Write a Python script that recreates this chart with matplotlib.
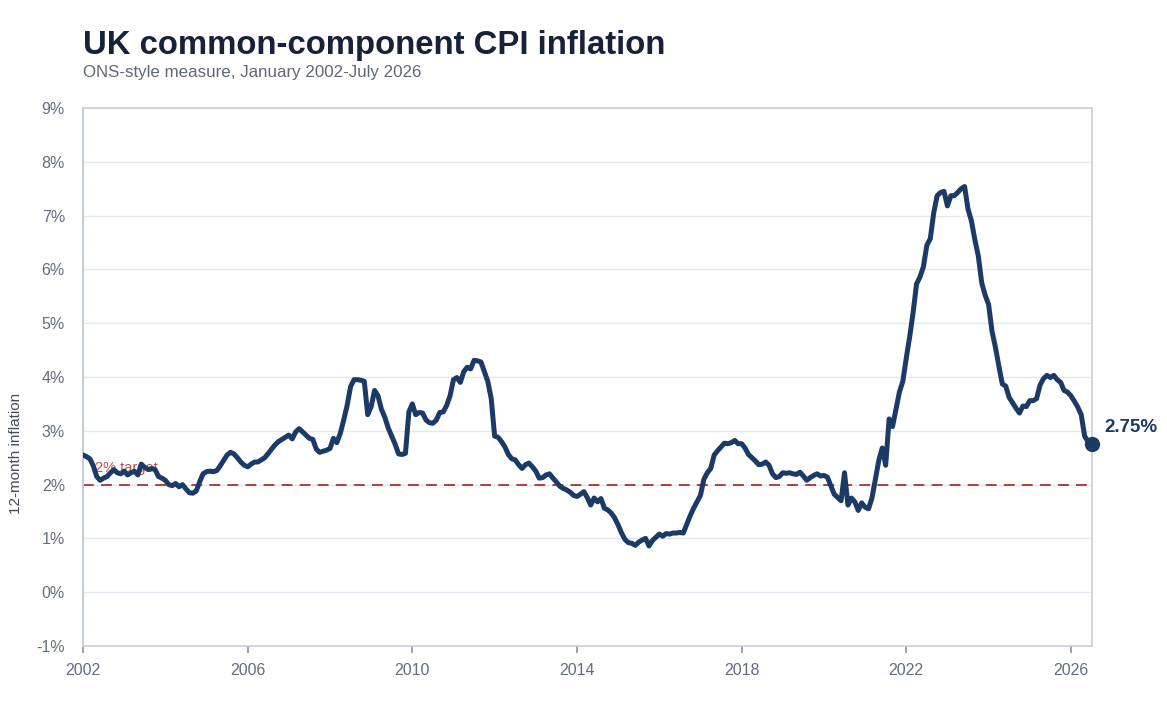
import numpy as np
import matplotlib
matplotlib.use("Agg")
import matplotlib.pyplot as plt

# 12-month common-component CPI inflation, monthly Jan 2002 - Jul 2026 (%)
start_year = 2002
inflation = [
    # 2002
    2.55, 2.52, 2.48, 2.35, 2.15, 2.08, 2.12, 2.15, 2.22, 2.28, 2.22, 2.20,
    # 2003
    2.25, 2.18, 2.22, 2.25, 2.18, 2.38, 2.32, 2.28, 2.30, 2.28, 2.15, 2.12,
    # 2004
    2.08, 2.00, 1.98, 2.02, 1.96, 2.00, 1.92, 1.85, 1.84, 1.88, 2.05, 2.20,
    # 2005
    2.24, 2.25, 2.24, 2.26, 2.35, 2.45, 2.55, 2.60, 2.57, 2.50, 2.42, 2.36,
    # 2006
    2.33, 2.38, 2.42, 2.42, 2.46, 2.50, 2.58, 2.66, 2.74, 2.80, 2.84, 2.88,
    # 2007
    2.92, 2.85, 2.98, 3.04, 2.98, 2.92, 2.86, 2.84, 2.66, 2.60, 2.62, 2.64,
    # 2008
    2.67, 2.86, 2.78, 2.95, 3.20, 3.47, 3.82, 3.95, 3.95, 3.94, 3.92, 3.30,
    # 2009
    3.45, 3.75, 3.65, 3.40, 3.25, 3.05, 2.90, 2.75, 2.57, 2.56, 2.58, 3.35,
    # 2010
    3.50, 3.30, 3.34, 3.33, 3.20, 3.15, 3.14, 3.20, 3.34, 3.35, 3.47, 3.65,
    # 2011
    3.95, 3.99, 3.90, 4.10, 4.18, 4.15, 4.31, 4.30, 4.28, 4.10, 3.92, 3.60,
    # 2012
    2.90, 2.88, 2.80, 2.70, 2.56, 2.48, 2.46, 2.37, 2.30, 2.37, 2.40, 2.33,
    # 2013
    2.25, 2.12, 2.13, 2.18, 2.20, 2.12, 2.05, 1.97, 1.93, 1.90, 1.86, 1.80,
    # 2014
    1.78, 1.82, 1.87, 1.76, 1.62, 1.75, 1.68, 1.74, 1.56, 1.53, 1.47, 1.38,
    # 2015
    1.25, 1.10, 0.98, 0.92, 0.91, 0.87, 0.93, 0.97, 1.00, 0.86, 0.96, 1.02,
    # 2016
    1.08, 1.04, 1.09, 1.08, 1.10, 1.10, 1.11, 1.10, 1.26, 1.42, 1.56, 1.68,
    # 2017
    1.80, 2.10, 2.22, 2.30, 2.55, 2.63, 2.70, 2.77, 2.76, 2.78, 2.82, 2.76,
    # 2018
    2.76, 2.68, 2.56, 2.50, 2.44, 2.37, 2.38, 2.42, 2.36, 2.20, 2.13, 2.15,
    # 2019
    2.22, 2.21, 2.22, 2.20, 2.19, 2.23, 2.16, 2.08, 2.13, 2.17, 2.20, 2.16,
    # 2020
    2.17, 2.14, 1.98, 1.82, 1.76, 1.70, 2.22, 1.62, 1.75, 1.68, 1.52, 1.66,
    # 2021
    1.58, 1.55, 1.75, 2.10, 2.45, 2.68, 2.36, 3.22, 3.08, 3.40, 3.72, 3.92,
    # 2022
    4.35, 4.75, 5.20, 5.73, 5.86, 6.05, 6.45, 6.57, 7.05, 7.37, 7.43, 7.45,
    # 2023
    7.18, 7.37, 7.37, 7.43, 7.50, 7.54, 7.12, 6.90, 6.55, 6.25, 5.75, 5.52,
    # 2024
    5.35, 4.85, 4.55, 4.20, 3.87, 3.83, 3.62, 3.52, 3.42, 3.33, 3.46, 3.45,
    # 2025
    3.56, 3.56, 3.60, 3.85, 3.97, 4.03, 3.99, 4.03, 3.95, 3.90, 3.75, 3.72,
    # 2026
    3.65, 3.55, 3.44, 3.30, 2.90, 2.80, 2.75,
]
target = 2.0
y_ticks = [-1, 0, 1, 2, 3, 4, 5, 6, 7, 8, 9]
x_ticks = [2002, 2006, 2010, 2014, 2018, 2022, 2026]

title = "UK common-component CPI inflation"
subtitle = "ONS-style measure, January 2002-July 2026"

plt.rcParams["font.family"] = ["Liberation Sans", "DejaVu Sans"]

navy = "#1b3a66"
grid_col = "#e4e7ee"
spine_col = "#c8cedb"
tick_col = "#646c7e"

values = np.array(inflation)
dates = start_year + np.arange(len(values)) / 12.0

fig = plt.figure(figsize=(11.67, 7.12), dpi=100)
ax = fig.add_axes([83 / 1167, 1 - 646 / 712, (1091.5 - 83) / 1167, (646 - 108) / 712])

for v in y_ticks:
    ax.axhline(v, color=grid_col, lw=1.0, zorder=0)

# target line, its label sits underneath the series
ax.text(2002.3, target + 0.18, "2% target", color="#c0504d", fontsize=10.5,
        ha="left", va="bottom", zorder=1)
ax.axhline(target, color="#a8332c", lw=1.3, ls=(0, (6, 4)), zorder=2)

ax.plot(dates, values, color=navy, lw=3.6, solid_joinstyle="round",
        solid_capstyle="round", zorder=3)
ax.plot(dates[-1], values[-1], "o", color=navy, ms=10, zorder=4, clip_on=False)
ax.annotate(f"{values[-1]:.2f}%", (dates[-1], values[-1]), xytext=(9, 12),
            textcoords="offset points", color=navy, fontsize=13.5,
            fontweight="bold", ha="left", va="center")

ax.set_xlim(dates[0], dates[-1])
ax.set_ylim(-1, 9)
ax.set_yticks(y_ticks)
ax.set_yticklabels([f"{v}%" for v in y_ticks])
ax.set_xticks(x_ticks)
ax.set_xticklabels([str(x) for x in x_ticks])

ax.tick_params(axis="y", length=0, pad=13, labelsize=11.5, labelcolor=tick_col)
ax.tick_params(axis="x", length=5, width=1.2, color="#8a91a2", pad=7,
               labelsize=11.5, labelcolor=tick_col)

for side in ["left", "right", "top", "bottom"]:
    ax.spines[side].set_color(spine_col)
    ax.spines[side].set_linewidth(1.2)
ax.spines["left"].set_linewidth(1.6)

fig.text(83 / 1167, 1 - 54 / 712, title, fontsize=23.7, fontweight="bold",
         color="#18213a", ha="left", va="baseline")
fig.text(83 / 1167, 1 - 77 / 712, subtitle, fontsize=12.2, color="#5f6778",
         ha="left", va="baseline")
fig.text(16 / 1167, 1 - 453 / 712, "12-month inflation", fontsize=11,
         color="#444b5a", rotation=90, ha="center", va="center")

fig.savefig("out.png", dpi=100, facecolor="white")
